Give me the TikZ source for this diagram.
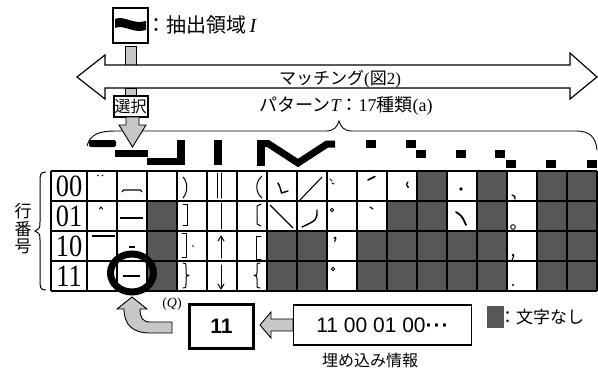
\documentclass[tikz,border=0pt]{standalone}
\usepackage{fontspec}
\setmainfont{Liberation Serif}
\newfontfamily\jp{Noto Sans CJK JP}
\newfontfamily\sansf{Liberation Sans}
\newfontfamily\digf[FakeStretch=0.85]{Liberation Serif}
\definecolor{cellgray}{gray}{0.34}
\definecolor{stip}{gray}{0.78}
\begin{document}
\begin{tikzpicture}[x=1pt,y=-1pt,
  cell/.style 2 args={shift={({87+30*(#1-1)},{171+30*(#2)})}},
  stipfill/.style={fill=stip,draw=black,line width=0.9pt},
  glyph/.style={line width=1pt,line cap=round,line join=round},
  jpf/.style={font=\jp\fontsize{#1}{#1}\selectfont},
  gridline/.style={line width=1.3pt},
  boxthick/.style={draw,line width=2pt,inner sep=0pt,fill=white},
]
\useasboundingbox (0,0) rectangle (598,372);

% ---------- top: extraction region ----------
\node[draw,line width=1.3pt,minimum width=35pt,minimum height=35pt,inner sep=0pt] (ext) at (130.5,25.5) {};
\fill (115,19) .. controls (124,15) and (133,25) .. (146,21) -- (146,30) .. controls (133,34) and (124,24) .. (115,28) -- cycle;
\node[jpf=20,anchor=west,inner sep=0pt] (extlbl) at (146,25) {：抽出領域\,{\rmfamily\itshape I}};

% connector from box to matching arrow
\draw[stipfill] (125.5,46) rectangle (136.5,65);

% ---------- matching double arrow ----------
\draw[line width=1.2pt,fill=white] (77,77) -- (105,55) -- (105,65) -- (570,65) -- (570,53) -- (597,77) -- (570,99) -- (570,88) -- (105,88) -- (105,99) -- cycle;
\node[font=\jp\fontsize{17}{17}\selectfont] (match) at (340,79) {マッチング{\rmfamily (}図{\rmfamily 2)}};

% connector to select box
\draw[stipfill] (125.5,88) rectangle (136.5,95);
\node[boxthick,minimum width=34pt,minimum height=21pt,jpf=16] (sel) at (130.5,106) {選択};

% ---------- pattern label and brace ----------
\node[jpf=18] (pat) at (346,106) {パターン{\rmfamily\itshape T}：{\rmfamily 17}種類{\rmfamily (a)}};
\draw[line width=0.9pt] (87,146) .. controls (90,134) and (100,131) .. (115,131) -- (326,131) .. controls (334,131) and (337,127) .. (339,121) .. controls (341,127) and (344,131) .. (352,131) -- (577,131) .. controls (590,131) and (596,138) .. (597,150);

% down arrow from select box
\draw[stipfill] (126,117) -- (139,117) -- (139,125) -- (146,125) -- (132.5,147) -- (119,125) -- (126,125) -- cycle;

% ---------- pattern strip ----------
\fill[rounded corners=2pt] (89,140) rectangle (116,147);
\fill (115,150) rectangle (148,157);
\fill (147,158) rectangle (180,165);
\fill (177,140) rectangle (185,165);
\fill (214,140) rectangle (222,165);
\fill (257,140) rectangle (265,166);
\draw[line width=7pt,line join=miter] (261,143.5) -- (268,143.5) -- (298,163) -- (327,144) -- (335,144);
\foreach \px/\py in {366/140,406/140,416/150,456/150,495/150,506/160,546/160,587/160}
  \fill (\px,\py) rectangle ++(10,8);

% ---------- grid ----------
\foreach \c/\r in {3/1,3/2,3/3,7/2,7/3,8/2,8/3,10/2,10/3,11/1,11/2,11/3,12/0,12/1,12/2,12/3,13/2,13/3,14/0,14/1,14/2,14/3,16/0,16/1,16/2,16/3,17/0,17/1,17/2,17/3}
  \fill[cellgray] ({87+30*(\c-1)},{171+30*\r}) rectangle ++(30,30);
\foreach \yy in {171,201,231,261,291}
  \draw[gridline] (51,\yy) -- (597,\yy);
\foreach \xx in {51,87,117,...,597}
  \draw[gridline] (\xx,171) -- (\xx,291);

% row labels
\foreach \lbl/\yy in {00/186,01/216,10/246,11/276}
  \node[font=\digf\fontsize{31}{31}\selectfont,inner sep=0pt] (row\lbl) at (69,\yy) {\lbl};

% glyph marks
\begin{scope}[cell={1}{0}] \fill (11,4.5) circle (0.9); \fill (15.5,4.5) circle (0.9); \end{scope}
\begin{scope}[cell={1}{1}] \draw[glyph] (12.5,8) .. controls (14,5.5) .. (15.5,8); \end{scope}
\begin{scope}[cell={1}{2}] \draw[line width=1.2pt] (5,5) -- (28,5); \end{scope}

\begin{scope}[cell={2}{0}] \draw[line width=1.2pt,line join=round] (5,21) -- (6.5,19) -- (23.5,19) -- (25,21); \end{scope}
\begin{scope}[cell={2}{1}] \draw[line width=1.2pt] (3,17) -- (26,17); \end{scope}
\begin{scope}[cell={2}{2}] \draw[line width=1.3pt] (12,16) -- (18,16); \end{scope}
\begin{scope}[cell={2}{3}] \draw[line width=1.2pt] (6,15) -- (23,15); \end{scope}

\begin{scope}[cell={4}{0}] \draw[glyph] (6,6) .. controls (11,11) and (11,21) .. (6,27); \end{scope}
\begin{scope}[cell={4}{1}] \draw[glyph] (6,3) -- (10,3) -- (10,24) -- (6,24); \end{scope}
\begin{scope}[cell={4}{2}] \draw[glyph] (5,2) -- (9,2) -- (9,26) -- (5,26); \fill (16,15) circle (0.9); \end{scope}
\begin{scope}[cell={4}{3}] \draw[glyph] (6,2) .. controls (9,2) .. (9,6) -- (9,11) .. controls (9,14) .. (12,14.5) .. controls (9,15) .. (9,18) -- (9,23) .. controls (9,27) .. (6,27); \end{scope}

\begin{scope}[cell={5}{0}] \draw[glyph] (10,2) -- (10,27); \draw[glyph] (14,2) -- (14,27); \end{scope}
\begin{scope}[cell={5}{1}] \draw[glyph] (14,2) -- (14,28); \end{scope}
\begin{scope}[cell={5}{2}] \draw[glyph] (14,27) -- (14,6); \draw[glyph] (11,10) -- (14,5) -- (17,10); \end{scope}
\begin{scope}[cell={5}{3}] \draw[glyph] (14,4) -- (14,27); \draw[glyph] (11,23) -- (14,28) -- (17,23); \end{scope}

\begin{scope}[cell={6}{0}] \draw[glyph] (25,5) .. controls (18,11) and (18,21) .. (25,27); \end{scope}
\begin{scope}[cell={6}{1}] \draw[glyph] (24,3) -- (20,5) -- (20,23) -- (24,25); \end{scope}
\begin{scope}[cell={6}{2}] \draw[glyph] (24,5) -- (19,5) -- (19,28) -- (24,28); \end{scope}
\begin{scope}[cell={6}{3}] \draw[glyph] (23,2) .. controls (20,2) .. (20,6) -- (20,11) .. controls (20,14) .. (17,14.5) .. controls (20,15) .. (20,18) -- (20,23) .. controls (20,27) .. (23,27); \end{scope}

\begin{scope}[cell={7}{0}] \draw[line width=1.4pt,line cap=round,line join=round] (11,12) .. controls (13,16) .. (14.5,22) -- (21,20); \end{scope}
\begin{scope}[cell={7}{1}] \draw[line width=1.2pt] (3,4) -- (26,27); \end{scope}

\begin{scope}[cell={8}{0}] \draw[line width=1.1pt] (3,29) -- (25,6); \end{scope}
\begin{scope}[cell={8}{1}] \draw[line width=1.4pt,line cap=round] (20,9) .. controls (20,19) .. (5,26); \end{scope}

\begin{scope}[cell={9}{0}] \draw[glyph] (3,8) -- (5,10); \draw[glyph] (5,12) -- (7,13); \end{scope}
\begin{scope}[cell={9}{1}] \draw[line width=0.8pt] (5,9) circle (1.8); \end{scope}
\begin{scope}[cell={9}{2}] \fill (8,7) circle (1.5); \draw[line width=1pt] (9,7.5) -- (7.5,11); \end{scope}
\begin{scope}[cell={9}{3}] \draw[line width=0.8pt] (6,8) circle (1.8); \end{scope}

\begin{scope}[cell={10}{0}] \draw[line width=1.6pt,line cap=round] (11,9) -- (18,5.5); \end{scope}
\begin{scope}[cell={10}{1}] \draw[line width=1.2pt,line cap=round] (13,6) -- (16,8); \end{scope}

\begin{scope}[cell={11}{0}] \draw[line width=1.2pt,line cap=round] (21,11) .. controls (19,13) .. (21,16); \fill (21,16) circle (1); \end{scope}

\begin{scope}[cell={13}{0}] \fill (14,18) circle (1.8); \end{scope}
\begin{scope}[cell={13}{1}] \draw[line width=1.8pt,line cap=round] (9,11) .. controls (15,15) .. (19,24); \end{scope}

\begin{scope}[cell={15}{0}] \draw[line width=1.3pt,line cap=round] (5,24) .. controls (8,25) .. (8,28); \end{scope}
\begin{scope}[cell={15}{1}] \draw[line width=0.9pt] (6,26) circle (2.3); \end{scope}
\begin{scope}[cell={15}{2}] \fill (6,24) circle (1.3); \draw[line width=1pt] (7,24.5) -- (5,29); \end{scope}
\begin{scope}[cell={15}{3}] \fill (6,24) circle (1.1); \end{scope}

% ---------- row-number label and brace ----------
\node[font=\jp\fontsize{17}{17.5}\selectfont,align=center,inner sep=0pt] (rowlbl) at (23,229) {行\\番\\号};
\draw[line width=1pt] (46,172) .. controls (40,172) and (40,175) .. (40,182) -- (40,222) .. controls (40,228) .. (35,231) .. controls (40,234) .. (40,240) -- (40,280) .. controls (40,287) and (40,290) .. (46,290);

% ---------- selection circle ----------
\draw[line width=7pt] (132,273) ellipse [x radius=21.5, y radius=19];

% ---------- bottom ----------
\draw[stipfill] (132,297) -- (147,309) -- (140,309) .. controls (140,318) and (143,322) .. (150,322) -- (172,322) -- (172,333) -- (150,333) .. controls (133,333) and (124,325) .. (124,309) -- (117,309) -- cycle;
\node[font=\fontsize{14}{14}\selectfont] (q) at (172,304) {(\textit{Q})};

\node[draw,line width=3pt,minimum width=64pt,minimum height=44pt,inner sep=0pt,font=\sansf\bfseries\fontsize{21}{21}\selectfont] (b11) at (221.5,326.5) {11};
\draw[stipfill] (260,325) -- (271,312) -- (271,319) -- (293,319) -- (293,331) -- (271,331) -- (271,338) -- cycle;
\node[draw,line width=1.2pt,minimum width=178pt,minimum height=40pt,inner sep=0pt,fill=white,font=\sansf\fontsize{21}{21}\selectfont] (bits) at (382.5,325) {11 00 01 00\textbf{·\kern1pt·\kern1pt·}};
\node[jpf=16] (emb) at (370,360) {埋め込み情報};

\fill[cellgray] (487,306) rectangle (504,328);
\node[jpf=17,anchor=west,inner sep=0pt] (leg) at (499,317) {：文字なし};
\end{tikzpicture}
\end{document}
